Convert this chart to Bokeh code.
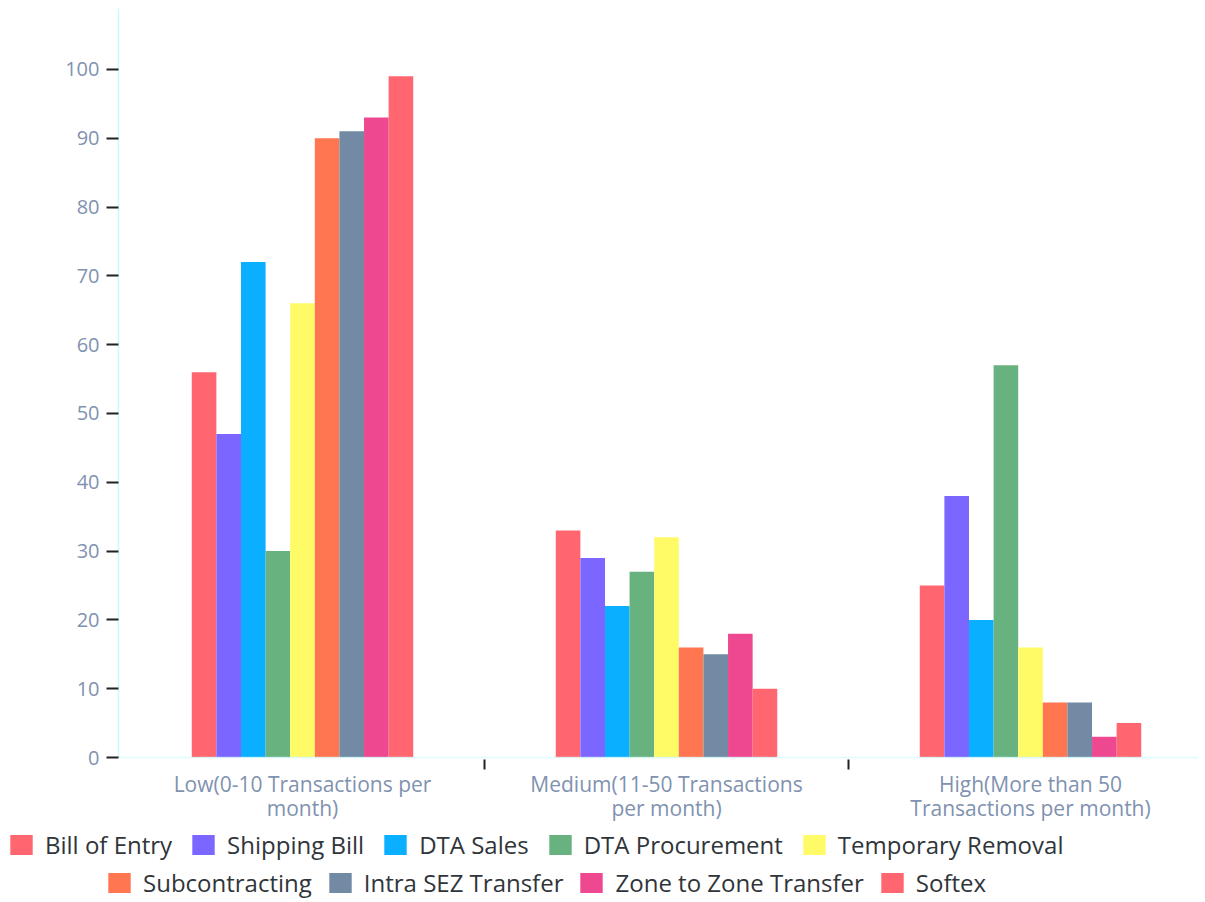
from bokeh.plotting import figure
from bokeh.layouts import column, row
from bokeh.models import (ColumnDataSource, Legend, LegendItem, FixedTicker, Range1d)
from bokeh.embed import file_html
from bokeh.resources import INLINE

categories = ["Low(0-10 Transactions per\nmonth)",
              "Medium(11-50 Transactions\nper month)",
              "High(More than 50\nTransactions per month)"]

series_names = ["Bill of Entry", "Shipping Bill", "DTA Sales", "DTA Procurement",
                "Temporary Removal", "Subcontracting", "Intra SEZ Transfer",
                "Zone to Zone Transfer", "Softex"]

bill_of_entry = [56, 33, 25]
shipping_bill = [47, 29, 38]
dta_sales = [72, 22, 20]
dta_procurement = [30, 27, 57]
temporary_removal = [66, 32, 16]
subcontracting = [90, 16, 8]
intra_sez_transfer = [91, 15, 8]
zone_to_zone_transfer = [93, 18, 3]
softex = [99, 10, 5]

series_values = [bill_of_entry, shipping_bill, dta_sales, dta_procurement,
                 temporary_removal, subcontracting, intra_sez_transfer,
                 zone_to_zone_transfer, softex]

colors = ["#FF6670", "#7B66FF", "#0BAFFF", "#67B27E", "#FFFB66",
          "#FF7650", "#728AA4", "#EE4990", "#FF6670"]

y_ticks = [0, 10, 20, 30, 40, 50, 60, 70, 80, 90, 100]

FONT = "Open Sans"
LABEL_COLOR = "#7f92b0"

p = figure(width=1200, height=824, output_backend="svg", toolbar_location=None,
           title=None,
           x_range=Range1d(-0.0055, 2.9615), y_range=Range1d(0, 108.85),
           min_border_left=118, min_border_right=2, min_border_top=8,
           min_border_bottom=62)
p.outline_line_color = None
p.xgrid.visible = False
p.ygrid.visible = False

bar_w = 0.0676
n = len(series_names)
sources = []
for j, (name, vals, col) in enumerate(zip(series_names, series_values, colors)):
    xs = [i + 0.5 + (j - (n - 1) / 2) * bar_w for i in range(len(categories))]
    src = ColumnDataSource(dict(x=xs, top=vals))
    sources.append(src)
    p.vbar(x="x", top="top", width=bar_w, bottom=0, source=src,
           fill_color=col, line_color=None)

# y axis
ya = p.yaxis[0]
ya.ticker = FixedTicker(ticks=y_ticks)
ya.axis_line_color = "#cff8fb"
ya.axis_line_width = 1.5
ya.major_tick_line_color = "#222222"
ya.major_tick_line_width = 2
ya.major_tick_out = 12
ya.major_tick_in = 0
ya.minor_tick_line_color = None
ya.major_label_standoff = 7
ya.major_label_text_font = FONT
ya.major_label_text_font_size = "20px"
ya.major_label_text_color = LABEL_COLOR

# x axis
xa = p.xaxis[0]
xa.ticker = FixedTicker(ticks=[0.5, 1.5, 2.5], minor_ticks=[1, 2])
xa.major_label_overrides = {0.5: categories[0], 1.5: categories[1], 2.5: categories[2]}
xa.axis_line_color = "#cff8fb"
xa.axis_line_width = 1.5
xa.axis_line_dash = "2 1"
xa.major_tick_line_color = None
xa.major_tick_out = 0
xa.major_tick_in = 0
xa.minor_tick_line_color = "#222222"
xa.minor_tick_line_width = 2
xa.minor_tick_out = 12
xa.minor_tick_in = -2
xa.major_label_standoff = 0
xa.axis_label_standoff = 0
xa.major_label_text_font = FONT
xa.major_label_text_font_size = "21px"
xa.major_label_text_color = LABEL_COLOR
xa.major_label_text_line_height = 0.86

# legend strip (renderers share the bar sources, but sit outside this strip's ranges)
pl = figure(width=1200, height=78, output_backend="svg", toolbar_location=None,
            title=None,
            x_range=Range1d(100, 101), y_range=Range1d(1000, 1001),
            x_axis_location=None, y_axis_location=None,
            min_border=0, min_border_left=0, min_border_right=0,
            min_border_top=0, min_border_bottom=0)
pl.grid.visible = False
pl.outline_line_color = None

legend_renderers = []
for src, col in zip(sources, colors):
    r = pl.vbar(x="x", top="top", width=bar_w, bottom=0, source=src,
                fill_color=col, line_color=None)
    legend_renderers.append(r)

def make_legend(idx, loc, spacing):
    items = [LegendItem(label=series_names[k], renderers=[legend_renderers[k]]) for k in idx]
    return Legend(items=items, orientation="horizontal", location=loc,
                  label_text_font=FONT, label_text_font_size="24px",
                  label_text_color="#30353a", glyph_width=28, glyph_height=25,
                  label_standoff=10, spacing=spacing, padding=0, margin=0,
                  border_line_color=None, background_fill_alpha=0)

pl.add_layout(make_legend([0, 1, 2, 3, 4], (7, 41), 17), "center")
pl.add_layout(make_legend([5, 6, 7, 8], (105, 3), 14), "center")

layout = column(p, row(pl), spacing=0)
open("out.html", "w").write(file_html(layout, INLINE))
